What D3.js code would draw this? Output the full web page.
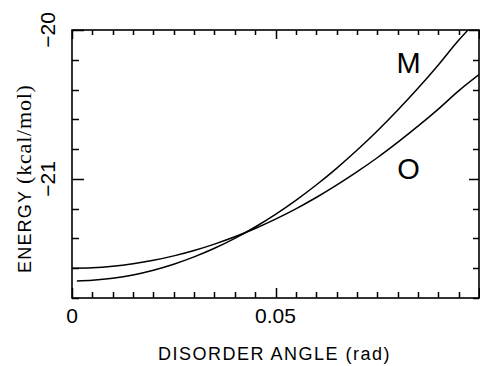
<!DOCTYPE html>
<html>
<head>
<meta charset="utf-8">
<script src="https://cdn.jsdelivr.net/npm/d3@7"></script>
<style>
  body { margin: 0; background: #fff; }
  svg { display: block; }
  .lbl { font-family: "Liberation Sans", Arial, sans-serif; fill: #000; }
</style>
</head>
<body>
<div id="chart"></div>
<script>
// disorder angle (rad) and energies (kcal/mol)
var angleO  = [0, 0.005, 0.01, 0.015, 0.02, 0.025, 0.03, 0.035, 0.04, 0.045, 0.05,
               0.055, 0.06, 0.065, 0.07, 0.075, 0.08, 0.085, 0.09, 0.095, 0.1];
var energyO = [-21.600, -21.597, -21.587, -21.570, -21.547, -21.517, -21.481, -21.438,
               -21.389, -21.333, -21.270, -21.201, -21.125, -21.042, -20.953, -20.858,
               -20.755, -20.646, -20.531, -20.409, -20.300];
var angleM  = [0.0012, 0.005, 0.01, 0.015, 0.02, 0.025, 0.03, 0.035, 0.04, 0.045, 0.05,
               0.055, 0.06, 0.065, 0.07, 0.075, 0.08, 0.085, 0.09, 0.095, 0.0973];
var energyM = [-21.685, -21.680, -21.667, -21.645, -21.613, -21.573, -21.524, -21.466,
               -21.399, -21.323, -21.238, -21.144, -21.041, -20.929, -20.808, -20.678,
               -20.539, -20.392, -20.235, -20.069, -20.000];

var xTicks = d3.range(0, 21).map(function(i) { return i * 0.005; });
var xMajor = [0, 0.05, 0.1];
var xLabels = ['0', '0.05'];
var xLabelAt = [0, 0.05];
var yTicks = d3.range(0, 10).map(function(i) { return -21.8 + i * 0.2; });
var yMajor = [-21, -20];
var yLabels = ['\u221221', '\u221220'];
var yLabelAt = [-21, -20];

var curveNames = ['M', 'O'];
var curveLabelAt = [[0.0827, -20.29], [0.0827, -21.0]];

var W = 480, H = 366;
var pLeft = 72, pRight = 479, pTop = 30, pBottom = 298;

var svg = d3.select('#chart').append('svg')
            .attr('width', W)
            .attr('height', H);

var x = d3.scaleLinear().domain([0, 0.1]).range([pLeft, pRight]);
var y = d3.scaleLinear().domain([-21.8, -20]).range([pBottom, pTop]);

function isMajor(list, v)
{
    for (var i = 0; i < list.length; i++)
        if (Math.abs(list[i] - v) < 1e-6) return true;
    return false;
}

// frame
svg.append('rect')
    .attr('x', pLeft)
    .attr('y', pTop)
    .attr('width', pRight - pLeft)
    .attr('height', pBottom - pTop)
    .attr('fill', 'none')
    .attr('stroke', '#000')
    .attr('stroke-width', 1.6);

// all ticks point inward, built as one path
var tickPath = d3.path();
xTicks.forEach(function(d) {
    var px = Math.round(x(d)) + 0.5;
    tickPath.moveTo(px, pBottom);
    tickPath.lineTo(px, pBottom - (isMajor(xMajor, d) ? 10 : 6));
    tickPath.moveTo(px, pTop);
    tickPath.lineTo(px, pTop + (isMajor(xMajor, d) ? 9 : 5));
});
yTicks.forEach(function(d) {
    var py = Math.round(y(d)) + 0.5;
    tickPath.moveTo(pLeft, py);
    tickPath.lineTo(pLeft + (isMajor(yMajor, d) ? 12 : 7), py);
    tickPath.moveTo(pRight, py);
    tickPath.lineTo(pRight - (isMajor(yMajor, d) ? 10 : 6), py);
});
svg.append('path')
    .attr('d', tickPath.toString())
    .attr('fill', 'none')
    .attr('stroke', '#000')
    .attr('stroke-width', 1.5);

// tick labels
svg.selectAll('text.xl').data(xLabels).enter()
    .append('text').attr('class', 'xl lbl')
    .attr('x', function(d, i) { return x(xLabelAt[i]); })
    .attr('y', 323)
    .attr('text-anchor', 'middle')
    .style('font-size', '21px')
    .text(function(d) { return d; });

svg.selectAll('text.ylab').data(yLabels).enter()
    .append('text').attr('class', 'ylab lbl')
    .attr('transform', function(d, i) { return 'translate(55,' + y(yLabelAt[i]) + ') rotate(-90)'; })
    .attr('text-anchor', 'middle')
    .style('font-size', '21px')
    .text(function(d) { return d; });

// curves
var line = d3.line()
             .x(function(d) { return x(d[0]); })
             .y(function(d) { return y(d[1]); })
             .curve(d3.curveMonotoneX);

var series = [d3.zip(angleM, energyM), d3.zip(angleO, energyO)];
svg.append('clipPath').attr('id', 'plot')
    .append('rect').attr('x', pLeft).attr('y', pTop)
    .attr('width', pRight - pLeft).attr('height', pBottom - pTop);

svg.append('g').attr('clip-path', 'url(#plot)')
    .selectAll('path').data(series).enter()
    .append('path')
    .attr('d', line)
    .attr('fill', 'none')
    .attr('stroke', '#000')
    .attr('stroke-width', 1.5);

// curve labels
svg.selectAll('text.name').data(curveNames).enter()
    .append('text')
    .attr('class', 'name lbl')
    .attr('x', function(d, i) { return x(curveLabelAt[i][0]); })
    .attr('y', function(d, i) { return y(curveLabelAt[i][1]); })
    .attr('text-anchor', 'middle')
    .style('font-size', '29px')
    .text(function(d) { return d; });

// axis titles
svg.append('text')
    .attr('class', 'lbl')
    .attr('x', (pLeft + pRight) / 2 - 1)
    .attr('y', 360)
    .attr('text-anchor', 'middle')
    .style('font-size', '18px')
    .style('letter-spacing', '1.5px')
    .text('DISORDER ANGLE (rad)');

var yt = svg.append('text')
    .attr('transform', 'translate(31,273) rotate(-90)')
    .attr('text-anchor', 'start');
yt.append('tspan')
    .attr('class', 'lbl')
    .style('font-size', '18px')
    .style('letter-spacing', '1.2px')
    .text('ENERGY  ');
yt.append('tspan')
    .style('font-family', '"Liberation Serif", "Times New Roman", serif')
    .style('font-size', '22px')
    .style('letter-spacing', '0.8px')
    .text('(kcal/mol)');
</script>
</body>
</html>
